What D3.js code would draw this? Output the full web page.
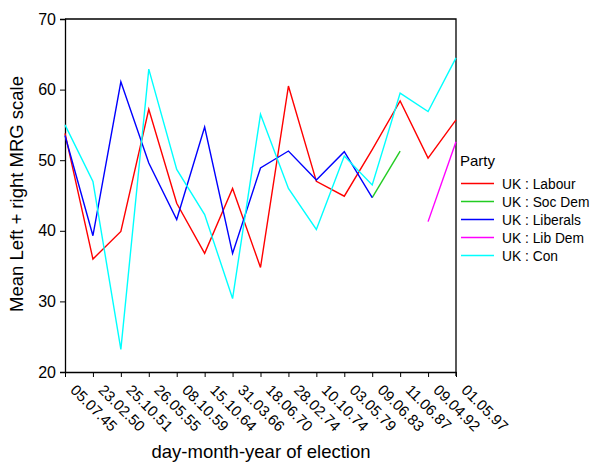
<!DOCTYPE html>
<html>
<head>
<meta charset="utf-8">
<script src="https://cdn.jsdelivr.net/npm/d3@7"></script>
<style>
  body { margin: 0; background: #fff; }
  text { font-family: "Liberation Sans", Arial, sans-serif; fill: #000; }
</style>
</head>
<body>
<div id="chart"></div>
<script>
const dates = ["05.07.45", "23.02.50", "25.10.51", "26.05.55", "08.10.59", "15.10.64", "31.03.66",
  "18.06.70", "28.02.74", "10.10.74", "03.05.79", "09.06.83", "11.06.87", "09.04.92", "01.05.97"]
const labour   = [53.8, 36.0, 39.9, 57.2, 43.9, 36.8, 46.0, 34.8, 60.5, 47.0, 44.9, 51.5, 58.4, 50.3, 55.7]
const socDem   = [null, null, null, null, null, null, null, null, null, null, null, 44.7, 51.3, null, null]
const liberals = [53.5, 39.3, 61.1, 49.6, 41.6, 54.7, 36.8, 48.9, 51.3, 47.2, 51.2, 44.7, null, null, null]
const libDem   = [null, null, null, null, null, null, null, null, null, null, null, null, null, 41.3, 52.6]
const con      = [55.0, 47.0, 23.2, 62.9, 48.7, 42.3, 30.4, 56.5, 46.0, 40.2, 50.6, 46.5, 59.5, 56.9, 64.5]
const yTicks = [20, 30, 40, 50, 60, 70]

const series = [
  {name: "UK : Labour", color: "#ff0000", values: labour},
  {name: "UK : Soc Dem", color: "#22cc22", values: socDem},
  {name: "UK : Liberals", color: "#0000ff", values: liberals},
  {name: "UK : Lib Dem", color: "#ff00ff", values: libDem},
  {name: "UK : Con", color: "#00ffff", values: con}
]

const W = 591, H = 462
const plot = {left: 65, top: 19, right: 456, bottom: 372}

const svg = d3.select("#chart").append("svg")
  .attr("width", W)
  .attr("height", H)

const xScale = d3.scalePoint().domain(dates).range([plot.left, plot.right])
const yScale = d3.scaleLinear().domain([20, 70]).range([plot.bottom, plot.top])

// frame (top and right)
svg.append("path")
  .attr("d", `M${plot.left},${plot.top}H${plot.right}V${plot.bottom + 4}`)
  .attr("fill", "none")
  .attr("stroke", "#000")
  .attr("stroke-width", 1.3)

// y axis
const yAxis = svg.append("g")
  .attr("transform", `translate(${plot.left},0)`)
  .call(d3.axisLeft(yScale).tickValues(yTicks).tickSize(5).tickPadding(4))
yAxis.select(".domain").attr("stroke-width", 1.3)
yAxis.selectAll("text").style("font-size", "16px").style("font-family", "Liberation Sans, Arial, sans-serif")

// x axis
const xAxis = svg.append("g")
  .attr("transform", `translate(0,${plot.bottom})`)
  .call(d3.axisBottom(xScale).tickSize(5).tickSizeOuter(0))
xAxis.select(".domain").attr("stroke-width", 1.3)
xAxis.selectAll("text")
  .style("font-size", "15px")
  .style("font-family", "Liberation Sans, Arial, sans-serif")
  .attr("text-anchor", "start")
  .attr("dy", null)
  .attr("y", 0)
  .attr("transform", "translate(4,19) rotate(45)")

// lines
const line = d3.line()
  .defined(d => d != null)
  .x((d, i) => xScale(dates[i]))
  .y(d => yScale(d))

svg.append("g").selectAll("path")
  .data(series)
  .enter().append("path")
  .attr("d", d => line(d.values))
  .attr("fill", "none")
  .attr("stroke", d => d.color)
  .attr("stroke-width", 1.4)

// axis titles
svg.append("text")
  .attr("x", 261)
  .attr("y", 458)
  .attr("text-anchor", "middle")
  .style("font-size", "18.5px")
  .text("day-month-year of election")

svg.append("text")
  .attr("transform", "translate(23,194) rotate(-90)")
  .attr("text-anchor", "middle")
  .style("font-size", "18.5px")
  .text("Mean Left + right MRG scale")

// legend
const legend = svg.append("g").attr("transform", "translate(460,0)")
legend.append("text")
  .attr("x", 0)
  .attr("y", 166)
  .style("font-size", "15px")
  .text("Party")

const items = legend.selectAll(".item")
  .data(series)
  .enter().append("g")
  .attr("class", "item")
  .attr("transform", (d, i) => `translate(0,${183.5 + i * 18})`)
items.append("line")
  .attr("x1", 1).attr("x2", 34)
  .attr("stroke", d => d.color)
  .attr("stroke-width", 1.4)
items.append("text")
  .attr("x", 42)
  .attr("y", 5)
  .style("font-size", "13.8px")
  .text(d => d.name)
</script>
</body>
</html>
